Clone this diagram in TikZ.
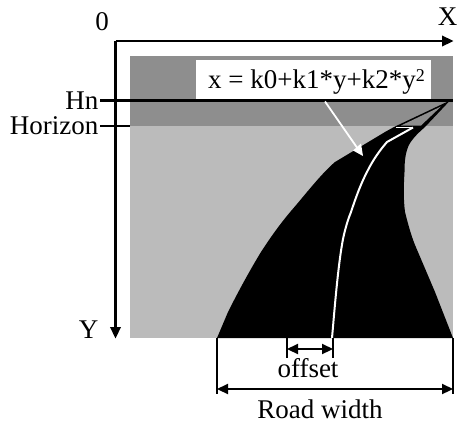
\documentclass[tikz,border=0pt]{standalone}
\usepackage{fontspec}
\setmainfont{Liberation Serif}
\usetikzlibrary{arrows.meta}
\definecolor{skyg}{HTML}{8E8E8E}
\definecolor{landg}{HTML}{BBBBBB}
\tikzset{
  ink/.style={line width=2.2pt,draw=black},
  axisarrow/.style={ink,-{Triangle[length=11.5pt,width=10.5pt]}},
  dimarrow/.style={ink,{Triangle[length=11pt,width=10pt]}-{Triangle[length=11pt,width=10pt]}},
  lbl/.style={inner sep=0pt,font=\fontsize{27}{29}\selectfont},
}
\begin{document}
\begin{tikzpicture}[x=1pt,y=-1pt]
\useasboundingbox (0,0) rectangle (457,423);
\fill[white] (0,0) rectangle (457,423);
\fill[skyg] (130,55.5) rectangle (453,126);
\fill[landg] (130,126) rectangle (453,338);
% road
\fill[black] (217,338) -- (228,312)
  .. controls (238,292) and (250,270) .. (261,252)
  .. controls (270,238) and (280,224) .. (291,211)
  .. controls (305,195) and (320,175) .. (335,162)
  -- (355,150) -- (385,132) -- (394,127)
  -- (450,100.5) -- (425,127)
  .. controls (417,134) and (411,140) .. (408,147)
  .. controls (405,155) and (404.5,163) .. (404.5,172)
  .. controls (403.5,188) and (403.5,200) .. (405,212)
  .. controls (408,224) and (411,235) .. (415,245)
  -- (435,292) -- (453,338) -- cycle;
\fill[skyg] (401,125.5) -- (441,106.5) -- (421,125.5) -- cycle;
\node[fill=white,minimum width=235pt,minimum height=39pt,inner sep=0pt] (eq) at (313.5,79.5) {};
\coordinate (corner) at (115.5,41);
\coordinate (xend) at (453.5,41);
\coordinate (yend) at (115.5,338.5);
\draw[axisarrow] (corner) -- (xend);
\draw[axisarrow] (corner) -- (yend);
\node[lbl,anchor=base] (zero) at (102,30) {0};
\node[lbl,anchor=base] (xl) at (447.5,25) {X};
\node[lbl,anchor=base east] (yl) at (98.5,338) {Y};
\node[lbl,anchor=base east] (hn) at (98.5,109) {Hn};
\node[lbl,anchor=base east] (hor) at (98.5,134) {Horizon};
\coordinate (hnstart) at (100,100.5);
\coordinate (hnend) at (453,100.5);
\coordinate (horstart) at (100,126);
\coordinate (horend) at (130,126);
\draw[ink] (hnstart) -- (hnend);
\draw[ink] (horstart) -- (horend);
\node[lbl,anchor=base west] (eqt) at (208,88) {x = k0+k1*y+k2*y\raisebox{7pt}{\fontsize{18}{18}\selectfont 2}};
% pointer to the lane curve
\coordinate (ptra) at (325,101.5);
\coordinate (ptrb) at (358,149);
\draw[white,line width=1.8pt] (ptra) -- (ptrb);
\fill[white] (363,156) -- (353,150.5) -- (361,143.5) -- cycle;
% lane curve
\draw[white,line width=2pt,line join=round] (332,338)
  .. controls (334.5,310) and (338,265) .. (343,239)
  .. controls (346,225) and (349,217) .. (351,212)
  .. controls (356,197) and (361,183) .. (368,170)
  .. controls (373,160) and (380,150) .. (387,142)
  -- (413,127.5);
\draw[white,line width=1pt] (396,127.5) -- (413,127.5);
\coordinate (la) at (217,338);
\coordinate (lb) at (217,394);
\coordinate (ra) at (453,338);
\coordinate (rb) at (453,394);
\coordinate (oa) at (287,338);
\coordinate (ob) at (287,358);
\coordinate (pa) at (333,338);
\coordinate (pb) at (333,358);
\draw[ink] (la) -- (lb);
\draw[ink] (ra) -- (rb);
\draw[ink] (oa) -- (ob);
\draw[ink] (pa) -- (pb);
\coordinate (oc) at (287,349);
\coordinate (pc) at (333,349);
\coordinate (lc) at (217,389);
\coordinate (rc) at (453,389);
\draw[dimarrow] (oc) -- (pc);
\draw[dimarrow] (lc) -- (rc);
\node[lbl,anchor=base] (off) at (308,377) {offset};
\node[lbl,anchor=base] (rw) at (320,418) {Road width};
\end{tikzpicture}
\end{document}
